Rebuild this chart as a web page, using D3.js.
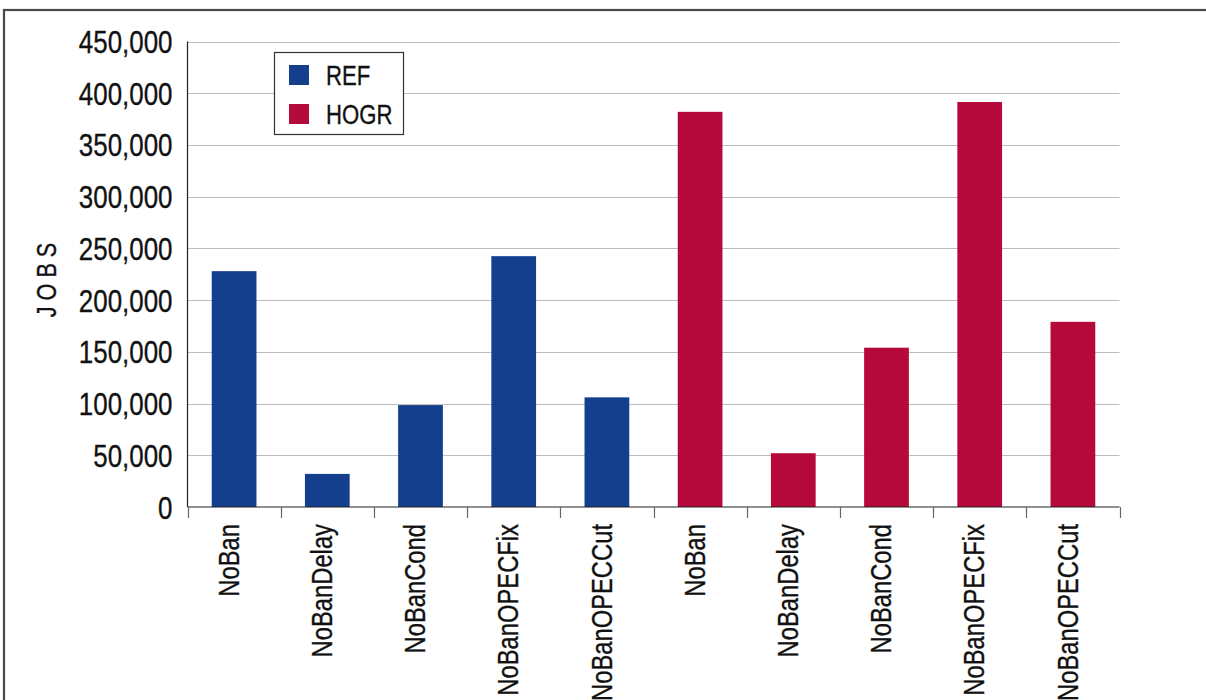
<!DOCTYPE html>
<html>
<head>
<meta charset="utf-8">
<script src="https://cdn.jsdelivr.net/npm/d3@7"></script>
<style>
  html, body { margin: 0; padding: 0; background: #ffffff; }
  svg { display: block; }
  text { font-family: "Liberation Sans", Arial, sans-serif; fill: #111; stroke: #111; stroke-width: 0.35px; }
</style>
</head>
<body>
<svg id="chart" width="1206" height="700"></svg>
<script>
// Scenarios run under each oil-price case
const scenarios = ["NoBan", "NoBanDelay", "NoBanCond", "NoBanOPECFix", "NoBanOPECCut"];
const seriesNames = ["REF", "HOGR"];
const seriesColors = ["#143f8d", "#b5093b"];
// Jobs by scenario
const refJobs = [228000, 32000, 98500, 242500, 106000];
const hogrJobs = [382000, 52000, 154000, 391500, 179000];
const yTicks = [0, 50000, 100000, 150000, 200000, 250000, 300000, 350000, 400000, 450000];
const yTitle = "J O B S";

// condensed look: horizontally squeezed sans-serif
const SQUEEZE = 0.82;

const rows = [];
[refJobs, hogrJobs].forEach((vals, s) => {
  vals.forEach((v, i) => rows.push({ key: s + "-" + i, label: scenarios[i], series: s, value: v }));
});

const svg = d3.select("#chart");
const W = 1206, H = 700;
const plot = { left: 187.5, right: 1119.5, top: 41.5, bottom: 507 };

// outer frame
svg.append("rect")
  .attr("x", 4).attr("y", 10)
  .attr("width", W + 20).attr("height", H + 20)
  .attr("fill", "none").attr("stroke", "#4a4a4a").attr("stroke-width", 2.2);

const x = d3.scaleBand()
  .domain(rows.map(d => d.key))
  .range([plot.left, plot.right])
  .paddingInner(0).paddingOuter(0);

const y = d3.scaleLinear()
  .domain([0, 450000])
  .range([plot.bottom, plot.top]);

// horizontal gridlines
svg.append("g")
  .selectAll("line")
  .data(yTicks.filter(t => t > 0))
  .join("line")
  .attr("x1", plot.left).attr("x2", plot.right)
  .attr("y1", d => Math.round(y(d)) + 0.5).attr("y2", d => Math.round(y(d)) + 0.5)
  .attr("stroke", "#bdbdbd").attr("stroke-width", 1);

// bars
const barW = x.bandwidth() * 0.48;
svg.append("g")
  .selectAll("rect")
  .data(rows)
  .join("rect")
  .attr("x", d => x(d.key) + (x.bandwidth() - barW) / 2)
  .attr("width", barW)
  .attr("y", d => y(d.value))
  .attr("height", d => y(0) - y(d.value))
  .attr("fill", d => seriesColors[d.series]);

// y axis line
svg.append("line")
  .attr("x1", plot.left).attr("x2", plot.left)
  .attr("y1", plot.top).attr("y2", plot.bottom)
  .attr("stroke", "#222").attr("stroke-width", 1.2);

// y tick labels
const fmt = d3.format(",");
svg.append("g")
  .selectAll("text")
  .data(yTicks)
  .join("text")
  .attr("transform", d => `translate(${plot.left - 15},${y(d)}) scale(${SQUEEZE - 0.01},1)`)
  .attr("text-anchor", "end")
  .attr("dy", "0.36em")
  .attr("font-size", 32)
  .text(d => fmt(d));

// x axis: ticks at category boundaries
const xAxis = svg.append("g")
  .attr("transform", `translate(0,${plot.bottom})`);
xAxis.append("line")
  .attr("x1", plot.left).attr("x2", plot.right)
  .attr("y1", 0).attr("y2", 0)
  .attr("stroke", "#222").attr("stroke-width", 1.2);
const boundaries = rows.map(d => x(d.key)).concat([plot.right]);
xAxis.selectAll("line.tick")
  .data(boundaries)
  .join("line")
  .attr("class", "tick")
  .attr("x1", d => Math.round(d) + 0.5).attr("x2", d => Math.round(d) + 0.5)
  .attr("y1", 0).attr("y2", 11)
  .attr("stroke", "#666").attr("stroke-width", 1.2);
xAxis.selectAll("text")
  .data(rows)
  .join("text")
  .attr("transform", d => `translate(${x(d.key) + x.bandwidth() / 2},17) rotate(-90) scale(${SQUEEZE},1)`)
  .attr("text-anchor", "end")
  .attr("dy", "0.16em")
  .attr("font-size", 29)
  .text(d => d.label);

// y title
svg.append("text")
  .attr("transform", "translate(47,280) rotate(-90) scale(0.8,1)")
  .attr("text-anchor", "middle")
  .attr("dy", "0.35em")
  .attr("font-size", 27)
  .text(yTitle);

// legend
const legend = svg.append("g").attr("transform", "translate(274.5,52.5)");
legend.append("rect")
  .attr("width", 129).attr("height", 82)
  .attr("fill", "#fff").attr("stroke", "#333").attr("stroke-width", 1.2);
const items = legend.selectAll("g.item")
  .data(seriesNames)
  .join("g")
  .attr("class", "item")
  .attr("transform", (d, i) => `translate(14.5,${12.5 + i * 39})`);
items.append("rect")
  .attr("width", 20).attr("height", 20)
  .attr("fill", (d, i) => seriesColors[i]);
items.append("text")
  .attr("transform", `translate(37,10) scale(${SQUEEZE},1)`)
  .attr("dy", "0.36em")
  .attr("font-size", 27)
  .text(d => d);
</script>
</body>
</html>
